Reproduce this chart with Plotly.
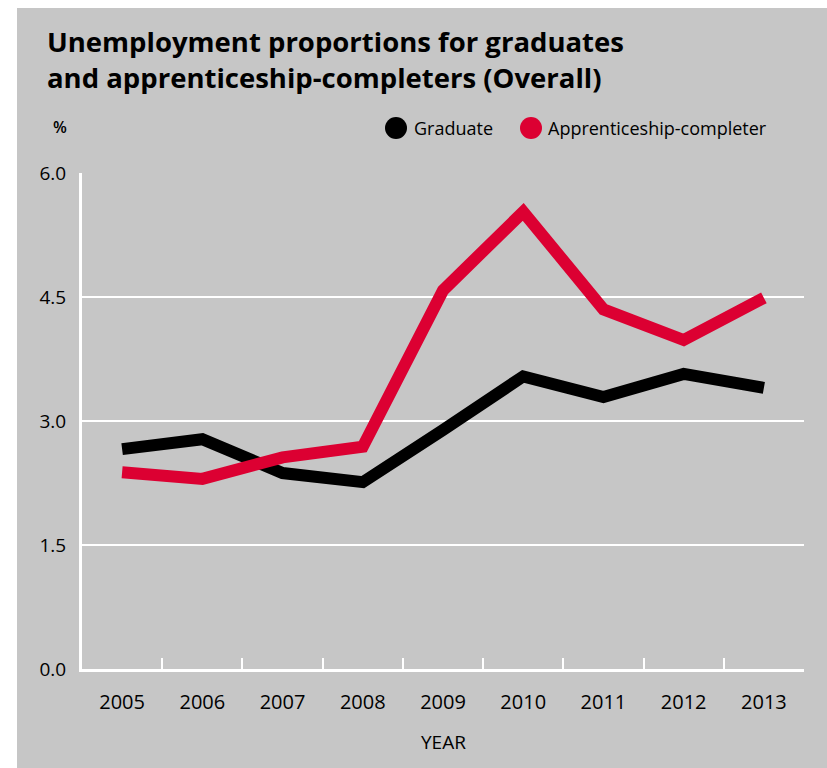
import plotly.graph_objects as go

years = ["2005", "2006", "2007", "2008", "2009", "2010", "2011", "2012", "2013"]
graduate = [2.66, 2.78, 2.37, 2.26, 2.89, 3.54, 3.29, 3.57, 3.40]
apprentice = [2.38, 2.30, 2.56, 2.69, 4.58, 5.53, 4.35, 3.98, 4.49]
y_ticks = [0.0, 1.5, 3.0, 4.5, 6.0]

W, H = 827, 768
L, R, T, B = 82, 804, 173, 669
GRAY = "#c6c6c6"
RED = "#dc0032"
FONT = "Open Sans"


def px(xp):
    return (xp - L) / (R - L)


def py(yp):
    return (B - yp) / (B - T)


fig = go.Figure()
fig.add_trace(go.Scatter(x=years, y=graduate, mode="lines", name="Graduate",
                         line=dict(color="black", width=12), showlegend=False))
fig.add_trace(go.Scatter(x=years, y=apprentice, mode="lines", name="Apprenticeship-completer",
                         line=dict(color=RED, width=12), showlegend=False))

shapes = [
    dict(type="rect", xref="paper", yref="paper", x0=px(17), x1=px(W + 5), y0=py(H + 5), y1=py(8),
         fillcolor=GRAY, line=dict(width=0), layer="below"),
    dict(type="circle", xref="paper", yref="paper", x0=px(385), x1=px(407), y0=py(139), y1=py(117),
         fillcolor="black", line=dict(width=0)),
    dict(type="circle", xref="paper", yref="paper", x0=px(520), x1=px(542), y0=py(139), y1=py(117),
         fillcolor=RED, line=dict(width=0)),
]

title_font = dict(family=FONT, size=27.5, color="black", weight=700)
annotations = [
    dict(text="Unemployment proportions for graduates<br>and apprenticeship-completers (Overall)",
         xref="paper", yref="paper", x=px(45), y=py(59), xanchor="left", yanchor="middle",
         showarrow=False, align="left", font=title_font),
    dict(text="%", xref="paper", yref="paper", x=px(51), y=py(127), xanchor="left", yanchor="middle",
         showarrow=False, font=dict(family=FONT, size=16, color="black", weight=600)),
    dict(text="Graduate", xref="paper", yref="paper", x=px(412), y=py(128), xanchor="left", yanchor="middle",
         showarrow=False, font=dict(family=FONT, size=18, color="black")),
    dict(text="Apprenticeship-completer", xref="paper", yref="paper", x=px(546), y=py(128),
         xanchor="left", yanchor="middle", showarrow=False, font=dict(family=FONT, size=18, color="black")),
    dict(text="YEAR", xref="paper", yref="paper", x=px(443), y=py(742), xanchor="center", yanchor="middle",
         showarrow=False, font=dict(family=FONT, size=19, color="black", weight=500)),
]

fig.update_layout(
    width=W, height=H,
    margin=dict(l=L, r=W - R, t=T, b=H - B),
    paper_bgcolor="white", plot_bgcolor=GRAY,
    shapes=shapes, annotations=annotations,
    xaxis=dict(type="category", range=[-0.5, 8.5], tickson="boundaries", ticks="inside",
               ticklen=11, tickwidth=2, tickcolor="white", showline=True, linecolor="white",
               linewidth=3, showgrid=False, fixedrange=True, ticklabelstandoff=13,
               tickfont=dict(family=FONT, size=20, color="black", weight=500)),
    yaxis=dict(range=[0, 6], tickvals=y_ticks, tickformat=".1f", showgrid=True, gridcolor="white",
               gridwidth=2, showline=True, linecolor="white", linewidth=3, zeroline=False,
               ticks="", ticklabelstandoff=9,
               tickfont=dict(family=FONT, size=19, color="black", weight=500)),
)

fig.write_html("out.html")
